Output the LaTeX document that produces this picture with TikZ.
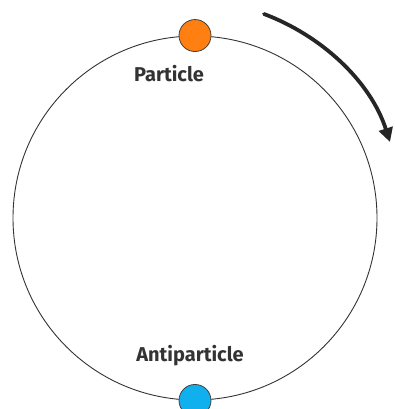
\documentclass[tikz,border=0pt]{standalone}
\usepackage{fontspec}
\setmainfont{Fira Sans}
\usetikzlibrary{arrows.meta,positioning}
\definecolor{partorange}{HTML}{FF8010}
\definecolor{antiblue}{HTML}{10B0EE}
\definecolor{ringgrey}{HTML}{333333}

\begin{document}
\begin{tikzpicture}[x=1pt,y=-1pt,font=\fontsize{20}{22}\selectfont\bfseries,
  dot/.style={circle,draw=black!75,line width=0.8pt,minimum size=32pt,inner sep=0pt}]
\useasboundingbox (0,0) rectangle (395,409);
\node[circle,draw=ringgrey,line width=0.9pt,minimum size=364pt,inner sep=0pt] (ring) at (195,218) {};
\node[dot,fill=partorange] (particle) at (ring.north) {};
\node[dot,fill=antiblue] (anti) at (ring.south) {};
\node[text=black!80] (plabel) at (169,74) {Particle};
\node[text=black!80] (alabel) at (190,356) {Antiparticle};
\coordinate (start) at (264,14);
\coordinate (tip) at (390,142);
\draw[line width=3.8pt,black!85,line cap=round,-{Triangle[length=14pt,width=14pt]}]
  (start) .. controls (320,35) and (370,80) .. (tip);
\end{tikzpicture}
\end{document}
